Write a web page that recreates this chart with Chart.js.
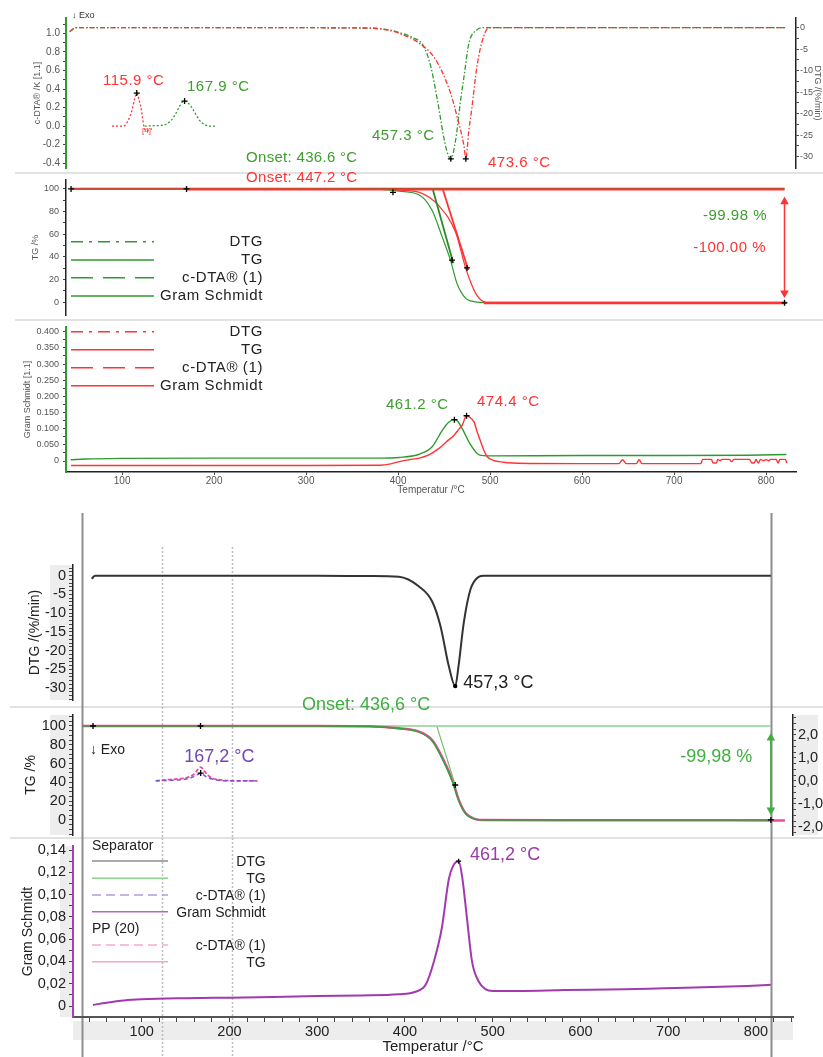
<!DOCTYPE html>
<html>
<head>
<meta charset="utf-8">
<script src="https://cdn.jsdelivr.net/npm/chart.js@4.4.1/dist/chart.umd.min.js"></script>
<style>
  html, body { margin: 0; padding: 0; background: #fff; }
  #page { position: relative; width: 823px; height: 1057px; overflow: hidden; }
  #page canvas { position: absolute; left: 0; }
  .sep { position: absolute; height: 2px; background: #e2e2e2; }
</style>
</head>
<body>
<div id="page">
  <div class="sep" style="left:15px; width:808px; top:172px"></div>
  <div class="sep" style="left:15px; width:808px; top:319px"></div>
  <div class="sep" style="left:10px; width:813px; top:706px"></div>
  <div class="sep" style="left:10px; width:813px; top:837px"></div>
  <canvas id="t1" width="823" height="190" style="top:0; width:823px; height:190px"></canvas>
  <canvas id="t2" width="823" height="175" style="top:160px; width:823px; height:175px"></canvas>
  <canvas id="t3" width="823" height="203" style="top:307px; width:823px; height:203px"></canvas>
  <canvas id="b1" width="823" height="215" style="top:510px; width:823px; height:215px"></canvas>
  <canvas id="b2" width="823" height="165" style="top:690px; width:823px; height:165px"></canvas>
  <canvas id="b3" width="823" height="231" style="top:826px; width:823px; height:231px"></canvas>
</div>
<script>
// ===== data =====
// upper screenshot: green = first run, red = second run
const topDtgGreenT = [43, 50, 100, 200, 300, 370, 390, 401, 415, 428, 435.5, 442.6, 451.8, 457.3, 462.6, 468, 471.6, 477, 485.7, 492, 600, 700, 822];
const topDtgGreen = [-0.9, 0, 0, 0, 0, -0.1, -0.5, -1.1, -2.2, -4.4, -9, -16.7, -27.7, -30.5, -26, -16.7, -11.4, -3.6, -0.5, 0, 0, 0, 0];
const topDtgRedT = [43, 50, 100, 200, 300, 370, 390, 401, 423, 441, 457, 464, 471.6, 473.6, 477, 480, 485.7, 493, 499, 600, 700, 822];
const topDtgRed = [-0.9, 0, 0, 0, 0, -0.1, -0.6, -1.3, -3.6, -7.5, -15.2, -20.6, -27.5, -30.5, -23.7, -19, -9, -2, 0, 0, 0, 0];
const topDtgPeaks = [[457.3, -30.5], [473.6, -30.5]];

const topDtaRedT = [89, 101.6, 106, 110.7, 113.5, 115.9, 118.5, 121, 123.6, 126.5, 129, 132.5];
const topDtaRed = [0, 0, 0.05, 0.17, 0.29, 0.356, 0.28, 0.17, 0, -0.05, -0.04, -0.03];
const topDtaGreenT = [124.6, 135, 144.5, 153.6, 158, 162.6, 165.5, 167.9, 171, 175, 180, 184, 191, 197, 202];
const topDtaGreen = [0, 0.005, 0.01, 0.065, 0.13, 0.216, 0.26, 0.27, 0.255, 0.21, 0.13, 0.065, 0.01, 0, 0];
const topDtaPeaks = [[115.9, 0.356], [167.9, 0.27]];

const topTgGreenT = [44.5, 100, 200, 300, 370, 390, 401, 423, 437, 448, 457, 464, 473.5, 480, 486, 495, 600, 822];
const topTgGreen = [100, 100, 100, 100, 99.8, 99.2, 98, 94.7, 81, 57.5, 37, 16.6, 3.5, 1, 0.2, 0, 0, 0];
const topTgRedT = [44.5, 170, 300, 370, 390, 401, 423, 444.5, 462.6, 473.5, 484, 490, 496, 600, 822];
const topTgRed = [100, 100, 100, 99.9, 99.5, 99, 97, 85, 61.5, 30, 8.3, 2, 0, 0, 0];
const topTgGreenTangentT = [437.9, 460];
const topTgGreenTangent = [99.1, 34.4];
const topTgRedTangentT = [448.8, 476.3];
const topTgRedTangent = [99.1, 28.5];
const topTgGreenStepT = [44.5, 820];
const topTgGreenStep = [100.2, 100.2];
const topTgRedStepT = [170, 820];
const topTgRedStep = [99.6, 99.6];
const topTgRedEndT = [493, 822];
const topTgRedEnd = [-0.8, -0.8];
const topTgMarks = [[44.5, 100], [170, 100], [394.4, 97], [458.6, 37.3], [474.9, 30.3], [820, -0.5]];

const topGsGreenT = [44, 60, 100, 200, 300, 380, 401, 423, 437, 448, 455, 461.2, 465, 469.7, 478.8, 488, 500, 600, 700, 780, 822];
const topGsGreen = [0.004, 0.006, 0.008, 0.009, 0.009, 0.009, 0.011, 0.021, 0.044, 0.095, 0.12, 0.128, 0.122, 0.1, 0.05, 0.019, 0.016, 0.017, 0.017, 0.018, 0.02];
const topGsRedT = [44.5, 100, 200, 300, 380, 392, 401, 412, 423, 434, 444.5, 452, 460.8, 466, 469.7, 474.4, 478, 482.5, 486, 489.7, 493, 497, 503, 509.5, 530, 600, 640, 644, 648, 659, 662, 665, 729, 731, 740.5, 742.5, 746, 747.5, 750, 752, 760, 762.5, 765, 782, 784.5, 787, 789, 791.5, 794, 797, 800, 803, 805, 811, 813, 815, 821, 822.5];
const topGsRed = [-0.014, -0.014, -0.014, -0.014, -0.013, -0.009, -0.002, 0.004, 0.009, 0.02, 0.039, 0.058, 0.08, 0.098, 0.111, 0.14, 0.135, 0.121, 0.09, 0.06, 0.035, 0.013, 0.003, -0.002, -0.007, -0.008, -0.008, 0.004, -0.008, -0.008, 0.004, -0.008, -0.008, 0.005, 0.005, -0.006, -0.006, 0.005, 0.001, 0.005, 0.005, -0.002, 0.005, 0.005, -0.006, -0.006, 0.005, -0.006, 0.005, 0.001, 0.004, 0.001, 0.005, 0.005, -0.006, 0.005, 0.005, -0.006];
const topGsPeaks = [[461.2, 0.128], [474.4, 0.14]];

// lower screenshot
const botDtgT = [43, 47, 60, 100, 200, 300, 360, 393, 416, 431, 440.5, 450, 457.3, 461, 467, 474.6, 484, 490, 600, 700, 817];
const botDtg = [-0.8, 0, 0, 0, 0, 0, -0.1, -0.3, -2.9, -6.9, -13.5, -24.2, -29.5, -24.2, -12.6, -3.7, -0.3, 0, 0, 0, 0];
const botDtgPeaks = [[457.3, -29.5]];

const botTgPinkT = [32, 100, 200, 300, 360, 393, 416, 431, 442, 454, 461.3, 469, 480, 490, 600, 700, 833];
const botTgPink = [100, 100, 100, 100, 99.6, 97.6, 94, 85, 67.6, 42.8, 21.5, 7.3, 1, 0, -0.3, -0.4, -0.5];
const botTgGreenT = [32, 100, 200, 300, 360, 393, 416, 431, 442, 454, 461.3, 469, 480, 490, 600, 817];
const botTgGreen = [100, 100, 100, 100, 99.6, 97.4, 93.5, 84, 66, 41, 20.5, 7, 1, 0, 0, 0];
const botTgStepT = [32, 817];
const botTgStep = [100, 100];
const botTgTangentT = [436.5, 458];
const botTgTangent = [99.3, 35];
const botTgMarks = [[44.5, 100], [167, 100], [457.3, 37.2], [817, 0]];

const botDtaPurpleT = [116, 130, 145, 155, 160, 165, 167.2, 170, 175, 185, 200, 232];
const botDtaPurple = [0, 0.02, 0.05, 0.12, 0.2, 0.3, 0.34, 0.27, 0.15, 0.04, 0, 0];
const botDtaPinkT = [116, 130, 145, 155, 160, 164, 167.2, 170, 174, 180, 190, 205, 232];
const botDtaPink = [0, 0.05, 0.1, 0.18, 0.3, 0.5, 0.6, 0.5, 0.3, 0.12, 0.04, 0, 0];
const botDtaPeaks = [[167.2, 0.34]];

const botGsT = [44.5, 60, 80, 100, 150, 200, 250, 300, 350, 393, 412, 423.5, 433, 442, 450, 455, 461.2, 465, 470.7, 476.4, 484, 491.6, 500, 530, 582, 650, 696, 750, 790, 817];
const botGs = [0.001, 0.003, 0.005, 0.006, 0.007, 0.0075, 0.008, 0.009, 0.0095, 0.0105, 0.0128, 0.019, 0.04, 0.07, 0.114, 0.126, 0.13, 0.117, 0.0785, 0.04, 0.022, 0.0152, 0.0135, 0.0135, 0.0143, 0.015, 0.016, 0.017, 0.018, 0.019];
const botGsPeaks = [[461.2, 0.13]];

// ticks
const tempTicks = [100, 200, 300, 400, 500, 600, 700, 800];
const tempLabels = ['100', '200', '300', '400', '500', '600', '700', '800'];
const topDtaTicks = [-0.4, -0.2, 0, 0.2, 0.4, 0.6, 0.8, 1.0];
const topDtaLabels = ['-0.4', '-0.2', '0.0', '0.2', '0.4', '0.6', '0.8', '1.0'];
const dtgTicks = [-30, -25, -20, -15, -10, -5, 0];
const dtgLabels = ['-30', '-25', '-20', '-15', '-10', '-5', '0'];
const tgTicks = [0, 20, 40, 60, 80, 100];
const tgLabels = ['0', '20', '40', '60', '80', '100'];
const topGsTicks = [0, 0.05, 0.1, 0.15, 0.2, 0.25, 0.3, 0.35, 0.4];
const topGsLabels = ['0', '0.050', '0.100', '0.150', '0.200', '0.250', '0.300', '0.350', '0.400'];
const botDtaTicks = [-2, -1, 0, 1, 2];
const botDtaLabels = ['-2,0', '-1,0', '0,0', '1,0', '2,0'];
const botGsTicks = [0, 0.02, 0.04, 0.06, 0.08, 0.1, 0.12, 0.14];
const botGsLabels = ['0', '0,02', '0,04', '0,06', '0,08', '0,10', '0,12', '0,14'];
const legendNames = ['DTG', 'TG', 'c-DTA® (1)', 'Gram Schmidt'];
const ppNames = ['c-DTA® (1)', 'TG'];

// ===== helpers =====
const FONT = '"Liberation Sans", Arial, sans-serif';
Chart.defaults.font.family = FONT;
Chart.defaults.animation = false;
Chart.defaults.events = [];
Chart.defaults.plugins.legend.display = false;
Chart.defaults.plugins.tooltip.enabled = false;

const GREEN = '#2e9a2e', RED = '#ff3333', TGREEN = '#3d9d2d';
const PURPLE = '#a23aae', LILAC = '#7d55c8', PINK = '#ea4a9c', BGREEN = '#3fae3f';

function pts(xs, ys) { return xs.map((x, i) => ({x: x, y: ys[i]})); }
function curve(xs, ys, color, width, dash, axis) {
  return {data: pts(xs, ys), borderColor: color, borderWidth: width, borderDash: dash || [], pointRadius: 0,
    cubicInterpolationMode: 'monotone', fill: false, yAxisID: axis || 'y'};
}
function straight(xs, ys, color, width, axis) {
  return {data: pts(xs, ys), borderColor: color, borderWidth: width, pointRadius: 0, tension: 0, yAxisID: axis || 'y'};
}
function marks(pairs, axis, style, r) {
  return {data: pairs.map(p => ({x: p[0], y: p[1]})), showLine: false, pointStyle: style || 'cross',
    pointRadius: r || 3.5, borderColor: '#000', backgroundColor: '#000', borderWidth: 1.3, yAxisID: axis || 'y'};
}
function arrow(x, y0, y1, color, axis) {
  return {data: [{x: x, y: y0}, {x: x, y: y1}], borderColor: color, borderWidth: 1.5, tension: 0,
    pointStyle: 'triangle', pointRadius: 3.5, pointRotation: [0, 180], pointBackgroundColor: color,
    pointBorderColor: color, yAxisID: axis || 'y'};
}
function steps(a, b, d, skip) {
  const out = [];
  for (let v = a; v <= b + 1e-9; v += d) {
    const r = Math.round(v * 10000) / 10000;
    if (!skip.some(m => Math.abs(m - r) < 1e-9)) out.push(r);
  }
  return out;
}
function ruler(pos, min, max, major, labels, minor, o) {
  return {
    type: 'linear', position: pos, min: min, max: max,
    afterFit: s => { if (s.isHorizontal()) s.height = o.h; else s.width = o.w; },
    afterBuildTicks: s => {
      s.ticks = major.concat(minor).filter(v => v >= min && v <= max).sort((a, b) => a - b).map(v => ({value: v}));
    },
    border: {color: o.line || '#222', width: o.lw || 1.5},
    grid: {drawOnChartArea: false, tickLength: o.tl || 4, color: o.tc || '#444'},
    ticks: {autoSkip: false, maxRotation: 0, padding: o.pad === undefined ? 3 : o.pad, color: o.col || '#333',
      font: {size: o.fs}, callback: v => { const i = major.indexOf(v); return i < 0 ? '' : labels[i]; }},
    title: {display: !!o.title, text: o.title || '', color: o.col || '#333', font: {size: o.tfs || o.fs},
      padding: o.tpad || {top: 0, bottom: 0}}
  };
}
function legendRows(names, colors, dashes, ys, x0, x1, xr, size, dy) {
  return names.map((n, i) => ({y: ys[i], text: n, color: colors[i], dash: dashes[i], x0: x0, x1: x1, xr: xr, size: size, dy: dy || 0}));
}

const deco = {
  id: 'deco',
  beforeDraw(chart, args, o) {
    const c = chart.ctx, xs = chart.scales.x;
    c.save();
    (o.bands || []).forEach(b => { c.fillStyle = '#ededed'; c.fillRect(b[0], b[1], b[2], b[3]); });
    (o.vlines || []).forEach(v => {
      const px = Math.round(xs.getPixelForValue(v.x)) + 0.5;
      c.strokeStyle = v.color; c.lineWidth = v.width; c.setLineDash(v.dash || []);
      c.beginPath(); c.moveTo(px, v.from); c.lineTo(px, v.to); c.stroke();
    });
    c.restore();
  },
  afterDraw(chart, args, o) {
    const c = chart.ctx, xs = chart.scales.x;
    c.save();
    (o.legend || []).forEach(r => {
      if (r.x1) {
        c.strokeStyle = r.color; c.lineWidth = r.lw || 1.6; c.setLineDash(r.dash || []);
        c.beginPath(); c.moveTo(r.x0, r.y); c.lineTo(r.x1, r.y); c.stroke();
      }
      c.setLineDash([]);
      c.font = r.size + 'px ' + FONT; c.fillStyle = '#222'; c.textBaseline = 'middle';
      c.letterSpacing = r.ls || '0px';
      c.textAlign = r.x1 ? 'right' : 'left';
      c.fillText(r.text, r.x1 ? r.xr : r.x0, r.y + r.dy);
    });
    (o.texts || []).forEach(t => {
      const ys = chart.scales[t.axis || 'y'];
      c.font = t.size + 'px ' + FONT; c.fillStyle = t.color; c.textBaseline = 'middle';
      c.textAlign = t.align || 'left'; c.letterSpacing = t.ls || '0px';
      c.fillText(t.text, xs.getPixelForValue(t.x), ys.getPixelForValue(t.y));
    });
    c.restore();
  }
};
Chart.register(deco);

// ===== upper screenshot =====
new Chart(document.getElementById('t1'), {
  type: 'line',
  data: {datasets: [
    marks(topDtgPeaks, 'y2', 'cross', 3),
    marks(topDtaPeaks, 'y', 'cross', 3),
    curve(topDtaRedT, topDtaRed, RED, 1.3, [2, 2]),
    curve(topDtaGreenT, topDtaGreen, GREEN, 1.3, [2, 2]),
    curve(topDtgRedT, topDtgRed, RED, 1.3, [5, 2, 1.5, 2], 'y2'),
    curve(topDtgGreenT, topDtgGreen, GREEN, 1.3, [5, 2, 1.5, 2], 'y2')
  ]},
  options: {
    responsive: false,
    layout: {padding: {top: 18, bottom: 22, left: 0, right: 0}},
    scales: {
      x: {type: 'linear', min: 39, max: 832.5, display: false},
      y: ruler('left', -0.451, 1.165, topDtaTicks, topDtaLabels, [-0.3, -0.1, 0.1, 0.3, 0.5, 0.7, 0.9, 1.1],
        {w: 66, fs: 10, col: '#555', line: GREEN, lw: 2, tl: 3, pad: 3, title: 'c-DTA® /K [1.1]', tfs: 9, tpad: {top: 32, bottom: 0}}),
      y2: ruler('right', -32.63, 2.26, dtgTicks, dtgLabels, [-27.5, -22.5, -17.5, -12.5, -7.5, -2.5],
        {w: 27, fs: 9, col: '#555', line: '#222', lw: 1.5, tl: 3, pad: 1, title: 'DTG /(%/min)', tfs: 9})
    },
    plugins: {deco: {texts: [
      {text: '↓ Exo', x: 45.5, y: 1.19, size: 9, color: '#333'},
      {text: '115.9 °C', x: 79.2, y: 0.485, size: 15, color: RED, ls: '0.5px'},
      {text: '167.9 °C', x: 170.5, y: 0.42, size: 15, color: TGREEN, ls: '0.5px'},
      {text: '[4]', x: 121.6, y: -0.054, size: 8, color: RED},
      {text: '457.3 °C', x: 371.6, y: -0.108, size: 15, color: TGREEN, ls: '0.5px'},
      {text: 'Onset: 436.6 °C', x: 234.7, y: -0.342, size: 15, color: TGREEN, ls: '0.3px'},
      {text: '473.6 °C', x: 497.7, y: -0.4, size: 15, color: RED, ls: '0.5px'}
    ]}}
  }
});

new Chart(document.getElementById('t2'), {
  type: 'line',
  data: {datasets: [
    marks(topTgMarks, 'y', 'cross', 3),
    arrow(820, 88.8, 8.2, RED),
    straight(topTgRedTangentT, topTgRedTangent, RED, 1.8),
    straight(topTgGreenTangentT, topTgGreenTangent, '#2a8a2a', 1.8),
    straight(topTgRedEndT, topTgRedEnd, RED, 2.2),
    curve(topTgRedT, topTgRed, RED, 1.2),
    curve(topTgGreenT, topTgGreen, GREEN, 1.2),
    straight(topTgRedStepT, topTgRedStep, RED, 2.2),
    straight(topTgGreenStepT, topTgGreenStep, '#237f23', 2.2)
  ]},
  options: {
    responsive: false,
    layout: {padding: {top: 20, bottom: 20, left: 0, right: 27}},
    scales: {
      x: {type: 'linear', min: 39, max: 832.5, display: false},
      y: ruler('left', -11.2, 107.9, tgTicks, tgLabels, [10, 30, 50, 70, 90],
        {w: 66, fs: 9, col: '#555', line: '#222', lw: 1.5, tl: 3, pad: 4, title: 'TG /%', tfs: 9, tpad: {top: 30, bottom: 0}})
    },
    plugins: {deco: {
      legend: legendRows(legendNames, [GREEN, GREEN, GREEN, GREEN], [[12, 6, 3, 6], [], [22, 10], []],
        [81.7, 100, 117.7, 136], 71, 154, 263, 15).map(r => Object.assign(r, {ls: '0.6px'})),
      texts: [
        {text: 'Onset: 447.2 °C', x: 234.7, y: 109.4, size: 15, color: RED, ls: '0.3px'},
        {text: '-99.98 %', x: 801, y: 76.2, size: 15, color: TGREEN, align: 'right', ls: '0.5px'},
        {text: '-100.00 %', x: 799.9, y: 47.7, size: 15, color: RED, align: 'right', ls: '0.5px'}
      ]
    }}
  }
});

new Chart(document.getElementById('t3'), {
  type: 'line',
  data: {datasets: [
    marks(topGsPeaks, 'y', 'cross', 3),
    curve(topGsRedT, topGsRed, RED, 1.4),
    curve(topGsGreenT, topGsGreen, GREEN, 1.4)
  ]},
  options: {
    responsive: false,
    layout: {padding: {top: 20, bottom: 0, left: 0, right: 27}},
    scales: {
      x: ruler('bottom', 39, 832.5, tempTicks, tempLabels, [],
        {h: 38, fs: 10, col: '#555', line: '#222', lw: 1.5, tl: 3, pad: 0, title: 'Temperatur /°C', tfs: 10, tpad: {top: 0, bottom: 14}}),
      y: ruler('left', -0.034, 0.4145, topGsTicks, topGsLabels, [0.025, 0.075, 0.125, 0.175, 0.225, 0.275, 0.325, 0.375],
        {w: 66, fs: 9, col: '#555', line: GREEN, lw: 2, tl: 3, pad: 4, title: 'Gram Schmidt [1.1]', tfs: 9, tpad: {top: 22, bottom: 0}})
    },
    plugins: {deco: {
      legend: legendRows(legendNames, [RED, RED, RED, RED], [[12, 6, 3, 6], [], [22, 10], []],
        [24.7, 42.7, 60.7, 78.7], 71, 154, 263, 15).map(r => Object.assign(r, {ls: '0.6px'})),
      texts: [
        {text: '461.2 °C', x: 386.8, y: 0.173, size: 15, color: TGREEN, ls: '0.5px'},
        {text: '474.4 °C', x: 485.7, y: 0.1825, size: 15, color: RED, ls: '0.5px'}
      ]
    }}
  }
});

// ===== lower screenshot =====
const frameLines = (from, to, dotFrom) => [
  {x: 32, from: from, to: to, color: '#8d8d8d', width: 2},
  {x: 817, from: from, to: to, color: '#8d8d8d', width: 2},
  {x: 123, from: dotFrom, to: to, color: '#bdbdbd', width: 1.5, dash: [2, 2]},
  {x: 203, from: dotFrom, to: to, color: '#bdbdbd', width: 1.5, dash: [2, 2]}
];

new Chart(document.getElementById('b1'), {
  type: 'line',
  data: {datasets: [
    marks(botDtgPeaks, 'y', 'circle', 1.5),
    curve(botDtgT, botDtg, '#333', 2)
  ]},
  options: {
    responsive: false,
    layout: {padding: {top: 55, bottom: 25, left: 0, right: 30}},
    scales: {
      x: {type: 'linear', min: 21.7, max: 842.2, display: false},
      y: ruler('left', -33.2, 2.86, dtgTicks, dtgLabels, steps(-33, 2, 1, dtgTicks),
        {w: 73, fs: 14.5, col: '#222', line: '#222', lw: 1.5, tl: 4, pad: 3, title: 'DTG /(%/min)', tfs: 14, tpad: {top: 27, bottom: 0}})
    },
    plugins: {deco: {
      bands: [[50, 55, 22, 135]],
      vlines: frameLines(3, 197, 37),
      texts: [
        {text: '457,3 °C', x: 466.3, y: -28.75, size: 18, color: '#222'},
        {text: 'Onset: 436,6 °C', x: 282.7, y: -34.5, size: 18, color: BGREEN}
      ]
    }}
  }
});

new Chart(document.getElementById('b2'), {
  type: 'line',
  data: {datasets: [
    marks(botTgMarks, 'y', 'cross', 3),
    marks(botDtaPeaks, 'y2', 'cross', 3),
    arrow(817, 87.2, 10.6, BGREEN),
    curve(botDtaPurpleT, botDtaPurple, LILAC, 1.5, [4, 3], 'y2'),
    curve(botDtaPinkT, botDtaPink, PINK, 1.8, [4, 2], 'y2'),
    straight(botTgTangentT, botTgTangent, '#6cbf6c', 1.2),
    curve(botTgGreenT, botTgGreen, '#3d9e3d', 1.6),
    curve(botTgPinkT, botTgPink, PINK, 2.4),
    straight(botTgStepT, botTgStep, '#8fd18f', 1.6)
  ]},
  options: {
    responsive: false,
    layout: {padding: {top: 25, bottom: 20, left: 0, right: 0}},
    scales: {
      x: {type: 'linear', min: 21.7, max: 842.2, display: false},
      y: ruler('left', -16, 111.7, tgTicks, tgLabels, steps(-15, 110, 5, tgTicks),
        {w: 73, fs: 14.5, col: '#222', line: '#222', lw: 1.5, tl: 4, pad: 3, title: 'TG /%', tfs: 14, tpad: {top: 23, bottom: 0}}),
      y2: ruler('right', -2.36, 2.87, botDtaTicks, botDtaLabels, steps(-2.25, 2.75, 0.25, botDtaTicks),
        {w: 30, fs: 14.5, col: '#222', line: '#222', lw: 1.5, tl: 3, pad: 2})
    },
    plugins: {deco: {
      bands: [[50, 25, 22, 120], [794, 25, 24, 120]],
      vlines: frameLines(17, 148, 17),
      texts: [
        {text: '↓ Exo', x: 41, y: 74.5, size: 14, color: '#222'},
        {text: '167,2 °C', x: 148.5, y: 67.3, size: 18, color: '#7048b8'},
        {text: '-99,98 %', x: 795.8, y: 66.7, size: 18, color: BGREEN, align: 'right'}
      ]
    }}
  }
});

new Chart(document.getElementById('b3'), {
  type: 'line',
  data: {datasets: [
    marks(botGsPeaks, 'y', 'cross', 2.5),
    curve(botGsT, botGs, PURPLE, 2)
  ]},
  options: {
    responsive: false,
    layout: {padding: {top: 20, bottom: 0, left: 0, right: 30}},
    scales: {
      x: ruler('bottom', 21.7, 842.2, tempTicks, tempLabels, steps(40, 840, 20, tempTicks),
        {h: 40, fs: 14.5, col: '#222', line: '#555', lw: 2, tl: 5, pad: 1, title: 'Temperatur /°C', tfs: 15, tpad: {top: 0, bottom: 1}}),
      y: ruler('left', -0.00987, 0.1436, botGsTicks, botGsLabels, steps(0.01, 0.13, 0.02, botGsTicks),
        {w: 73, fs: 14.5, col: '#222', line: '#b03ab8', lw: 2, tl: 4, pad: 3, title: 'Gram Schmidt', tfs: 14, tpad: {top: 20, bottom: 0}})
    },
    plugins: {deco: {
      bands: [[60, 20, 12, 171], [73, 195, 720, 19]],
      vlines: frameLines(12, 231, 12),
      legend: [{text: 'Separator', x0: 92, y: 20, size: 14, dy: 0}]
        .concat(legendRows(legendNames, ['#8c8c8c', '#8fd18f', '#b49be0', '#b866c4'], [[], [], [9, 5], []],
          [35, 52.3, 69, 85.7], 92, 168, 265.7, 14, 1))
        .concat([{text: 'PP (20)', x0: 92, y: 103, size: 14, dy: 0}])
        .concat(legendRows(ppNames, ['#f7a8d2', '#f5a3cf'], [[9, 5], []], [119, 135.7], 92, 168, 265.7, 14, 1)),
      texts: [
        {text: '461,2 °C', x: 474.1, y: 0.1355, size: 18, color: '#9c3aa8'}
      ]
    }}
  }
});
</script>
</body>
</html>
